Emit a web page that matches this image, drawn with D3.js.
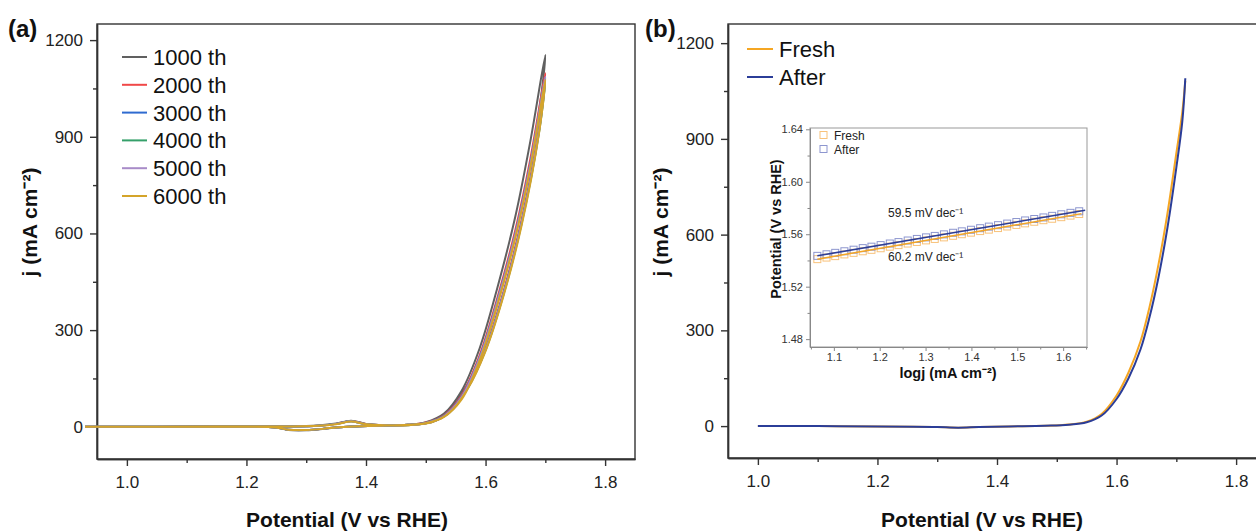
<!DOCTYPE html>
<html>
<head>
<meta charset="utf-8">
<script src="https://cdn.jsdelivr.net/npm/d3@7"></script>
<style>
  body { margin: 0; background: #fff; }
  svg { display: block; font-family: "Liberation Sans", Arial, sans-serif; }
  .axis path, .axis line { stroke: #333; stroke-width: 1.4; }
  .axis text { font-size: 17px; fill: #222; }
  .inset .axis path, .inset .axis line { stroke: #888; stroke-width: 1; }
  .inset .axis text { font-size: 11px; fill: #333; }
  .title { font-weight: bold; fill: #111; }
</style>
</head>
<body>
<div class="chart"></div>
<script>
// --- Data: panel (a), CV cycles ---
const cycleNames = ["1000 th", "2000 th", "3000 th", "4000 th", "5000 th", "6000 th"];
const cycleColors = ["#606060", "#f04848", "#2f6bd0", "#35a06a", "#a88bc8", "#d4a42a"];

const vForward = [0.93, 1.05, 1.15, 1.22, 1.27, 1.32, 1.35, 1.375, 1.40, 1.43, 1.47, 1.50, 1.53, 1.56, 1.59, 1.62, 1.65, 1.675, 1.70];
const vReverse = [1.69, 1.66, 1.63, 1.60, 1.57, 1.54, 1.51, 1.47, 1.42, 1.38, 1.35, 1.33, 1.30, 1.27, 1.25, 1.20, 1.10, 0.93];

const j1000Fwd = [0, 0, 1, 1, 1, 4, 10, 19, 9, 5, 6, 14, 40, 112, 243, 433, 654, 887, 1154];
const j2000Fwd = [0, 0, 1, 1, 1, 3, 9, 18, 9, 5, 6, 13, 35, 98, 222, 402, 612, 832, 1097];
const j3000Fwd = [0, 0, 1, 1, 1, 3, 9, 17, 8, 5, 6, 12, 33, 94, 215, 393, 601, 818, 1083];
const j4000Fwd = [0, 0, 1, 1, 1, 3, 9, 17, 8, 5, 5, 12, 32, 90, 211, 388, 595, 812, 1079];
const j5000Fwd = [0, 0, 1, 1, 1, 3, 9, 17, 8, 5, 5, 12, 32, 92, 213, 390, 598, 815, 1086];
const j6000Fwd = [0, 0, 1, 1, 1, 3, 8, 16, 8, 5, 5, 11, 30, 85, 205, 380, 588, 805, 1077];

const j1000Rev = [985, 680, 450, 265, 132, 50, 16, 6, 3, 1, -2, -6, -11, -10, -2, 0, 0, 0];
const j2000Rev = [935, 640, 420, 245, 122, 46, 15, 6, 3, 1, -2, -6, -10, -9, -2, 0, 0, 0];
const j3000Rev = [925, 632, 414, 240, 120, 45, 15, 6, 3, 1, -2, -6, -10, -9, -2, 0, 0, 0];
const j4000Rev = [920, 628, 410, 238, 119, 45, 15, 6, 3, 1, -2, -6, -10, -9, -2, 0, 0, 0];
const j5000Rev = [925, 630, 412, 239, 120, 45, 15, 6, 3, 1, -2, -6, -10, -9, -2, 0, 0, 0];
const j6000Rev = [918, 622, 406, 235, 117, 44, 14, 6, 3, 1, -2, -6, -10, -9, -2, 0, 0, 0];

const cycleForward = [j1000Fwd, j2000Fwd, j3000Fwd, j4000Fwd, j5000Fwd, j6000Fwd];
const cycleReverse = [j1000Rev, j2000Rev, j3000Rev, j4000Rev, j5000Rev, j6000Rev];

// --- Data: panel (b), LSV fresh vs after ---
const lsvNames = ["Fresh", "After"];
const lsvColors = ["#f5a623", "#2b3d98"];
const vLsv = [1.00, 1.10, 1.20, 1.26, 1.30, 1.335, 1.37, 1.42, 1.48, 1.52, 1.55, 1.575, 1.60, 1.62, 1.64, 1.655, 1.67, 1.685, 1.70, 1.71, 1.715];
const jFresh = [0, 0, -1, -2, -3, -5, -3, -1, 1, 5, 14, 38, 96, 168, 265, 372, 505, 665, 855, 985, 1082];
const jAfter = [0, 0, -1, -2, -3, -5, -3, -1, 1, 4, 12, 33, 85, 150, 240, 340, 465, 620, 810, 955, 1090];

// --- Data: inset Tafel ---
const logj = [1.064, 1.084, 1.103, 1.123, 1.143, 1.163, 1.182, 1.202, 1.222, 1.241, 1.261, 1.281, 1.301, 1.320, 1.340,
              1.360, 1.379, 1.399, 1.419, 1.438, 1.458, 1.478, 1.498, 1.517, 1.537, 1.557, 1.576, 1.596, 1.616, 1.635];
const tafelFresh = [1.5410, 1.5422, 1.5433, 1.5446, 1.5458, 1.5470, 1.5481, 1.5493, 1.5505, 1.5517, 1.5529, 1.5541, 1.5553, 1.5564, 1.5576,
                    1.5588, 1.5600, 1.5612, 1.5624, 1.5635, 1.5647, 1.5659, 1.5671, 1.5683, 1.5695, 1.5707, 1.5718, 1.5730, 1.5742, 1.5754];
const tafelAfter = [1.5435, 1.5447, 1.5458, 1.5470, 1.5482, 1.5494, 1.5505, 1.5517, 1.5529, 1.5540, 1.5552, 1.5564, 1.5576, 1.5587, 1.5599,
                    1.5611, 1.5622, 1.5634, 1.5646, 1.5658, 1.5669, 1.5681, 1.5693, 1.5705, 1.5716, 1.5728, 1.5740, 1.5752, 1.5763, 1.5775];
const fitFresh = [[1.064, 1.5410], [1.640, 1.5757]];
const fitAfter = [[1.064, 1.5435], [1.648, 1.5782]];
const slopeLabels = ["60.2 mV dec\u207B\u00B9", "59.5 mV dec\u207B\u00B9"];

// --- Tick labels ---
const jTicks = [0, 300, 600, 900, 1200];
const jMinor = [-150, 150, 450, 750, 1050];
const vTicks = [1.0, 1.2, 1.4, 1.6, 1.8];
const vMinor = [1.1, 1.3, 1.5, 1.7];
const tafelYTicks = [1.48, 1.52, 1.56, 1.60, 1.64];
const tafelYMinor = [1.50, 1.54, 1.58, 1.62];
const tafelXTicks = [1.1, 1.2, 1.3, 1.4, 1.5, 1.6];
const tafelXMinor = [1.05, 1.15, 1.25, 1.35, 1.45, 1.55, 1.65];

// --- Setup ---
const width = 1256, height = 531;
const svg = d3.select(".chart").append("svg")
  .attr("width", width)
  .attr("height", height);

const boxA = { left: 97, right: 635, top: 24, bottom: 459 };
const boxB = { left: 728, right: 1266, top: 24, bottom: 458 };
const boxI = { left: 810, right: 1087, top: 128, bottom: 347 };

const xa = d3.scaleLinear().domain([0.95, 1.85]).range([boxA.left, boxA.right]);
const ya = d3.scaleLinear().domain([-100, 1250]).range([boxA.bottom, boxA.top]);
const xb = d3.scaleLinear().domain([0.95, 1.85]).range([boxB.left, boxB.right]);
const yb = d3.scaleLinear().domain([-100, 1260]).range([boxB.bottom, boxB.top]);
const xi = d3.scaleLinear().domain([1.048, 1.652]).range([boxI.left, boxI.right]);
const yi = d3.scaleLinear().domain([1.474, 1.641]).range([boxI.bottom, boxI.top]);

// draws frame + major/minor ticks for one panel
function drawAxes(g, x, y, box, o) {
  g.append("rect")
    .attr("x", box.left).attr("y", box.top)
    .attr("width", box.right - box.left).attr("height", box.bottom - box.top)
    .attr("fill", o.fill || "none")
    .attr("stroke", o.frame).attr("stroke-width", o.frameWidth);

  g.append("g").attr("class", "axis")
    .attr("transform", `translate(0,${box.bottom})`)
    .call(d3.axisBottom(x).tickValues(o.xTicks).tickFormat(d3.format(o.xFmt))
      .tickSize(o.major).tickSizeOuter(0).tickPadding(o.xPad));
  g.append("g").attr("class", "axis")
    .attr("transform", `translate(0,${box.bottom})`)
    .call(d3.axisBottom(x).tickValues(o.xMinor).tickFormat("").tickSize(o.minor).tickSizeOuter(0));

  g.append("g").attr("class", "axis")
    .attr("transform", `translate(${box.left},0)`)
    .call(d3.axisLeft(y).tickValues(o.yTicks).tickFormat(d3.format(o.yFmt))
      .tickSize(o.major).tickSizeOuter(0).tickPadding(o.yPad));
  g.append("g").attr("class", "axis")
    .attr("transform", `translate(${box.left},0)`)
    .call(d3.axisLeft(y).tickValues(o.yMinor.filter(v => v >= y.domain()[0] && v <= y.domain()[1]))
      .tickFormat("").tickSize(o.minor).tickSizeOuter(0));
}

const mainOpts = {
  xTicks: vTicks, xMinor: vMinor, yTicks: jTicks, yMinor: jMinor,
  xFmt: ".1f", yFmt: "d", major: 7, minor: 4, xPad: 10, yPad: 7,
  frame: "#333", frameWidth: 1.4
};

// --- Panel (a) ---
const gA = svg.append("g");
drawAxes(gA, xa, ya, boxA, mainOpts);

const lineA = d3.line()
  .x(d => xa(d[0])).y(d => ya(d[1]))
  .curve(d3.curveCatmullRom.alpha(0.5));

cycleNames.forEach((name, i) => {
  const pts = vForward.map((v, k) => [v, cycleForward[i][k]])
    .concat(vReverse.map((v, k) => [v, cycleReverse[i][k]]));
  gA.append("path")
    .attr("d", lineA(pts))
    .attr("fill", "none")
    .attr("stroke", cycleColors[i])
    .attr("stroke-width", 2);
});

// legend (a)
cycleNames.forEach((name, i) => {
  const yy = 57 + i * 27.8;
  gA.append("line")
    .attr("x1", 122).attr("x2", 147).attr("y1", yy).attr("y2", yy)
    .attr("stroke", cycleColors[i]).attr("stroke-width", 2);
  gA.append("text")
    .attr("x", 153).attr("y", yy + 8)
    .style("font-size", "22px").attr("fill", "#111")
    .text(name);
});

// --- Panel (b) ---
const gB = svg.append("g");
drawAxes(gB, xb, yb, boxB, mainOpts);

const lineB = d3.line()
  .x(d => xb(d[0])).y(d => yb(d[1]))
  .curve(d3.curveCatmullRom.alpha(0.5));

[jFresh, jAfter].forEach((vals, i) => {
  gB.append("path")
    .attr("d", lineB(vLsv.map((v, k) => [v, vals[k]])))
    .attr("fill", "none")
    .attr("stroke", lsvColors[i])
    .attr("stroke-width", 2);
});

lsvNames.forEach((name, i) => {
  const yy = 49 + i * 28;
  gB.append("line")
    .attr("x1", 747).attr("x2", 773).attr("y1", yy).attr("y2", yy)
    .attr("stroke", lsvColors[i]).attr("stroke-width", 2);
  gB.append("text")
    .attr("x", 779).attr("y", yy + 8)
    .style("font-size", "22px").attr("fill", "#111")
    .text(name);
});

// --- Inset ---
const gI = svg.append("g").attr("class", "inset");
drawAxes(gI, xi, yi, boxI, {
  xTicks: tafelXTicks, xMinor: tafelXMinor, yTicks: tafelYTicks, yMinor: tafelYMinor,
  xFmt: ".1f", yFmt: ".2f", major: 4, minor: 2.5, xPad: 2, yPad: 3,
  frame: "#999", frameWidth: 1, fill: "#fff"
});

const markerColors = ["#f8c27a", "#8d96cf"];
[tafelFresh, tafelAfter].forEach((vals, i) => {
  gI.selectAll(null)
    .data(logj.map((v, k) => [v, vals[k]]))
    .enter().append("rect")
    .attr("x", d => xi(d[0]) - 3.5).attr("y", d => yi(d[1]) - 3.5)
    .attr("width", 7).attr("height", 7)
    .attr("fill", "none")
    .attr("stroke", markerColors[i]).attr("stroke-width", 1);
});

const lineI = d3.line().x(d => xi(d[0])).y(d => yi(d[1]));
[fitFresh, fitAfter].forEach((pts, i) => {
  gI.append("path")
    .attr("d", lineI(pts))
    .attr("stroke", lsvColors[i]).attr("stroke-width", 1.5).attr("fill", "none");
});

// inset legend
lsvNames.forEach((name, i) => {
  const yy = 135 + i * 14;
  gI.append("rect")
    .attr("x", 820).attr("y", yy - 3.5).attr("width", 7).attr("height", 7)
    .attr("fill", "none").attr("stroke", markerColors[i]);
  gI.append("text")
    .attr("x", 834).attr("y", yy + 4.5)
    .style("font-size", "12px").attr("fill", "#222")
    .text(name);
});

gI.append("text").attr("x", 888).attr("y", 261)
  .style("font-size", "12px").attr("fill", "#222").text(slopeLabels[0]);
gI.append("text").attr("x", 888).attr("y", 217)
  .style("font-size", "12px").attr("fill", "#222").text(slopeLabels[1]);

gI.append("text").attr("class", "title")
  .attr("transform", "translate(781,229) rotate(-90)")
  .attr("text-anchor", "middle").style("font-size", "14.5px")
  .text("Potential (V vs RHE)");
gI.append("text").attr("class", "title")
  .attr("x", 948).attr("y", 378)
  .attr("text-anchor", "middle").style("font-size", "14.5px")
  .text("logj (mA cm\u207B\u00B2)");

// --- Axis titles & panel labels ---
[[347, 37], [982, 668]].forEach(([xc, yx], i) => {
  svg.append("text").attr("class", "title")
    .attr("x", xc).attr("y", 527)
    .attr("text-anchor", "middle").style("font-size", "21px")
    .text("Potential (V vs RHE)");
  svg.append("text").attr("class", "title")
    .attr("transform", `translate(${yx},222) rotate(-90)`)
    .attr("text-anchor", "middle").style("font-size", "21px")
    .text("j (mA cm\u207B\u00B2)");
  svg.append("text").attr("class", "title")
    .attr("x", i === 0 ? 8 : 645).attr("y", 37)
    .style("font-size", "24px")
    .text(i === 0 ? "(a)" : "(b)");
});
</script>
</body>
</html>
